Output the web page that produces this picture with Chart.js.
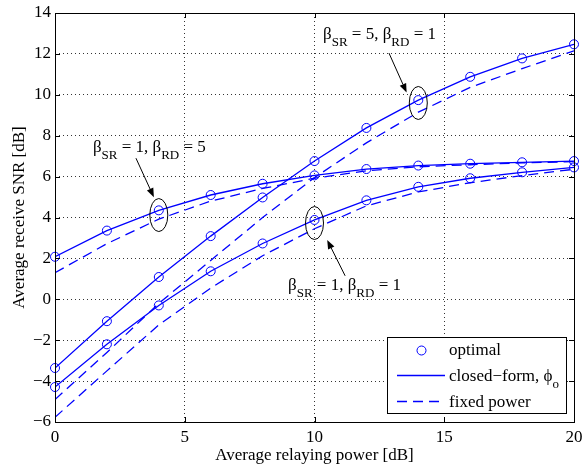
<!DOCTYPE html>
<html>
<head>
<meta charset="utf-8">
<script src="https://cdn.jsdelivr.net/npm/chart.js@4.4.1/dist/chart.umd.min.js"></script>
<style>
html, body { margin: 0; padding: 0; background: #fff; }
#wrap { width: 584px; height: 466px; }
</style>
</head>
<body>
<div id="wrap"><canvas id="snr" width="584" height="466"></canvas></div>
<script>
// x axis: average relaying power [dB]
const relayPower = [0, 2, 4, 6, 8, 10, 12, 14, 16, 18, 20];

// beta_SR = 5, beta_RD = 1
const optimalA = [-3.36, -1.07, 1.09, 3.09, 4.98, 6.76, 8.38, 9.74, 10.88, 11.78, 12.47];
const closedA  = [-3.36, -1.07, 1.09, 3.09, 4.98, 6.76, 8.38, 9.74, 10.88, 11.78, 12.47];
const fixedA   = [-4.9, -2.6, -0.2, 1.9, 4.0, 5.95, 7.65, 9.15, 10.36, 11.28, 12.15];

// beta_SR = 1, beta_RD = 5
const optimalB = [2.08, 3.36, 4.35, 5.1, 5.65, 6.06, 6.37, 6.54, 6.63, 6.7, 6.76];
const closedB  = [2.08, 3.36, 4.35, 5.1, 5.65, 6.06, 6.37, 6.54, 6.63, 6.7, 6.76];
const fixedB   = [1.3, 2.72, 3.92, 4.8, 5.42, 5.92, 6.28, 6.48, 6.58, 6.67, 6.73];

// beta_SR = 1, beta_RD = 1
const optimalC = [-4.29, -2.2, -0.3, 1.37, 2.73, 3.88, 4.84, 5.5, 5.92, 6.21, 6.45];
const closedC  = [-4.29, -2.2, -0.3, 1.37, 2.73, 3.88, 4.84, 5.5, 5.92, 6.21, 6.45];
const fixedC   = [-5.77, -3.5, -1.25, 0.55, 2.13, 3.45, 4.57, 5.25, 5.7, 6.05, 6.36];

const xTicks = [0, 5, 10, 15, 20];
const yTicks = [-6, -4, -2, 0, 2, 4, 6, 8, 10, 12, 14];

// annotations, in data units: [x, y]
const notes = [
    { label: ['5', '1'], text: [10.33, 12.74], tail: [12.87, 12.04], tip: [13.55, 10.11], ring: [14, 9.6] },
    { label: ['1', '5'], text: [1.46, 7.21], tail: [3.12, 6.9], tip: [3.81, 4.99], ring: [4, 4.12] },
    { label: ['1', '1'], text: [8.98, 0.45], tail: [11.18, 1.15], tip: [10.49, 2.9], ring: [10, 3.73] }
];

const blue = '#0000ff';
const serif = '"Liberation Serif", "Times New Roman", serif';
const dashPattern = [10, 6];

function pts(ys) {
    return relayPower.map((x, i) => ({ x: x, y: ys[i] }));
}

const datasets = [];
[[closedA, fixedA], [closedB, fixedB], [closedC, fixedC]].forEach(([closed, fixed]) => {
    datasets.push({
        data: pts(closed), showLine: true, borderColor: blue, borderWidth: 1.3,
        pointRadius: 0, tension: 0, fill: false
    });
    datasets.push({
        data: pts(fixed), showLine: true, borderColor: blue, borderWidth: 1.3,
        borderDash: dashPattern, pointRadius: 0, tension: 0, fill: false
    });
});
[optimalA, optimalB, optimalC].forEach(opt => {
    datasets.push({
        data: pts(opt), showLine: false, borderColor: blue, borderWidth: 1,
        backgroundColor: 'rgba(0,0,0,0)', pointStyle: 'circle', pointRadius: 4.5, clip: false
    });
});

function drawRich(ctx, parts, x, y) {
    parts.forEach(([txt, sub]) => {
        ctx.font = (sub ? '13px ' : '17px ') + serif;
        ctx.fillText(txt, x, sub ? y + 7 : y);
        x += ctx.measureText(txt).width;
    });
}

function arrow(ctx, x1, y1, x2, y2) {
    const ang = Math.atan2(y2 - y1, x2 - x1);
    const len = 9, half = 3.5;
    const bx = x2 - len * Math.cos(ang), by = y2 - len * Math.sin(ang);
    ctx.beginPath();
    ctx.moveTo(x1, y1);
    ctx.lineTo(bx, by);
    ctx.stroke();
    ctx.beginPath();
    ctx.moveTo(x2, y2);
    ctx.lineTo(bx + half * Math.sin(ang), by - half * Math.cos(ang));
    ctx.lineTo(bx - half * Math.sin(ang), by + half * Math.cos(ang));
    ctx.closePath();
    ctx.fill();
}

const matlabFrame = {
    id: 'matlabFrame',
    afterDraw(chart) {
        const { ctx, chartArea: a, scales: { x, y } } = chart;
        ctx.save();
        ctx.strokeStyle = '#000';
        ctx.fillStyle = '#000';
        ctx.lineWidth = 1;

        // inward tick marks on all four sides
        ctx.beginPath();
        xTicks.forEach(v => {
            const px = Math.round(x.getPixelForValue(v)) + 0.5;
            ctx.moveTo(px, a.bottom); ctx.lineTo(px, a.bottom - 5);
            ctx.moveTo(px, a.top); ctx.lineTo(px, a.top + 5);
        });
        yTicks.forEach(v => {
            const py = Math.round(y.getPixelForValue(v)) + 0.5;
            ctx.moveTo(a.left, py); ctx.lineTo(a.left + 5, py);
            ctx.moveTo(a.right, py); ctx.lineTo(a.right - 5, py);
        });
        ctx.stroke();
        ctx.strokeRect(Math.round(a.left) + 0.5, Math.round(a.top) + 0.5,
            Math.round(a.right - a.left), Math.round(a.bottom - a.top));

        // axis titles
        ctx.font = '17px ' + serif;
        ctx.textAlign = 'center';
        ctx.textBaseline = 'alphabetic';
        ctx.fillText('Average relaying power [dB]', (a.left + a.right) / 2, 460);
        ctx.save();
        ctx.translate(24, (a.top + a.bottom) / 2);
        ctx.rotate(-Math.PI / 2);
        ctx.fillText('Average receive SNR [dB]', 0, 0);
        ctx.restore();

        // annotations
        ctx.textAlign = 'left';
        notes.forEach(n => {
            drawRich(ctx, [['\u03b2', false], ['SR', true], [' = ' + n.label[0] + ', \u03b2', false],
                ['RD', true], [' = ' + n.label[1], false]],
                x.getPixelForValue(n.text[0]), y.getPixelForValue(n.text[1]));
            arrow(ctx, x.getPixelForValue(n.tail[0]), y.getPixelForValue(n.tail[1]),
                x.getPixelForValue(n.tip[0]), y.getPixelForValue(n.tip[1]));
            ctx.beginPath();
            ctx.ellipse(x.getPixelForValue(n.ring[0]), y.getPixelForValue(n.ring[1]), 9, 16.5, 0, 0, Math.PI * 2);
            ctx.stroke();
        });

        // legend box
        const lx = 387.5, ly = 337.5, lw = 179, lh = 76;
        ctx.fillStyle = '#fff';
        ctx.fillRect(lx, ly, lw, lh);
        ctx.strokeRect(lx, ly, lw, lh);
        ctx.fillStyle = '#000';
        ctx.strokeStyle = blue;
        ctx.lineWidth = 1;
        ctx.beginPath();
        ctx.arc(421.5, 350.5, 4.5, 0, Math.PI * 2);
        ctx.stroke();
        ctx.lineWidth = 1.3;
        ctx.beginPath();
        ctx.moveTo(397, 375.5); ctx.lineTo(445, 375.5);
        ctx.stroke();
        ctx.setLineDash(dashPattern);
        ctx.beginPath();
        ctx.moveTo(397, 401.5); ctx.lineTo(445, 401.5);
        ctx.stroke();
        ctx.setLineDash([]);
        drawRich(ctx, [['optimal', false]], 449, 355);
        drawRich(ctx, [['closed\u2212form, \u03d5', false], ['o', true]], 449, 381);
        drawRich(ctx, [['fixed power', false]], 449, 407);
        ctx.restore();
    }
};

const tickFont = { family: serif, size: 17 };

new Chart(document.getElementById('snr'), {
    type: 'scatter',
    data: { datasets: datasets },
    options: {
        responsive: false,
        animation: false,
        events: [],
        layout: { padding: { top: 13, right: 10, left: 0, bottom: 0 } },
        plugins: { legend: { display: false }, tooltip: { enabled: false } },
        scales: {
            x: {
                type: 'linear', min: 0, max: 20,
                afterFit(s) { s.height = 44; s.paddingLeft = 0; s.paddingRight = 0; },
                afterBuildTicks(s) { s.ticks = xTicks.map(v => ({ value: v })); },
                ticks: { font: tickFont, color: '#000', padding: 5, maxRotation: 0 },
                grid: { color: '#000', lineWidth: 0.8, drawTicks: false },
                border: { display: false, dash: [1, 3] }
            },
            y: {
                type: 'linear', min: -6, max: 14,
                afterFit(s) { s.width = 55; s.paddingTop = 0; s.paddingBottom = 0; },
                afterBuildTicks(s) { s.ticks = yTicks.map(v => ({ value: v })); },
                ticks: {
                    font: tickFont, color: '#000', padding: 4,
                    callback: v => (v < 0 ? '\u2212' + Math.abs(v) : String(v))
                },
                grid: { color: '#000', lineWidth: 0.8, drawTicks: false },
                border: { display: false, dash: [1, 3] }
            }
        }
    },
    plugins: [matlabFrame]
});
</script>
</body>
</html>
